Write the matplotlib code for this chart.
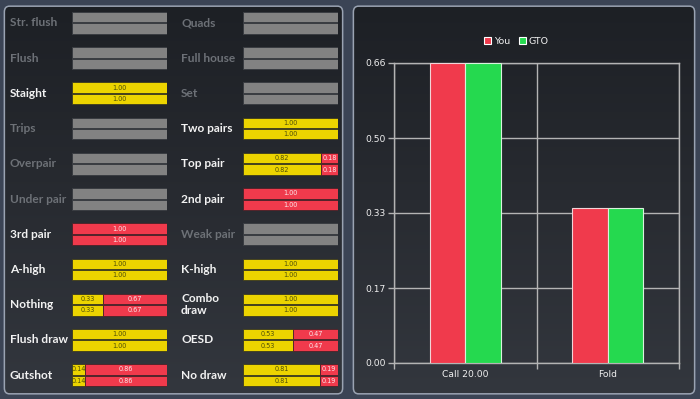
import numpy as np
import matplotlib
matplotlib.use("Agg")
import matplotlib.pyplot as plt
from matplotlib.patches import FancyBboxPatch
from matplotlib.transforms import blended_transform_factory
from matplotlib.colors import LinearSegmentedColormap

# ---------------- data ----------------
left_labels = ["Str. flush", "Flush", "Staight", "Trips", "Overpair", "Under pair",
               "3rd pair", "A-high", "Nothing", "Flush draw", "Gutshot"]
left_call = [np.nan, np.nan, 1.00, np.nan, np.nan, np.nan, 0.00, 1.00, 0.33, 1.00, 0.14]
left_fold = [np.nan, np.nan, 0.00, np.nan, np.nan, np.nan, 1.00, 0.00, 0.67, 0.00, 0.86]

right_labels = ["Quads", "Full house", "Set", "Two pairs", "Top pair", "2nd pair",
                "Weak pair", "K-high", "Combo\ndraw", "OESD", "No draw"]
right_call = [np.nan, np.nan, np.nan, 1.00, 0.82, 0.00, np.nan, 1.00, 1.00, 0.53, 0.81]
right_fold = [np.nan, np.nan, np.nan, 0.00, 0.18, 1.00, np.nan, 0.00, 0.00, 0.47, 0.19]

actions = ["Call 20.00", "Fold"]
you_freq = [0.66, 0.34]
gto_freq = [0.66, 0.34]
y_ticks = [0.0, 0.165, 0.33, 0.495, 0.66]
y_tick_labels = ["0.00", "0.17", "0.33", "0.50", "0.66"]

# ---------------- style ----------------
W, H = 700, 399
BG = "#3b4455"
YELLOW = "#ecd400"
RED = "#f03a4c"
GREEN = "#25d94f"
GRAY = "#828282"
LABEL_ON = "#f2f2f2"
LABEL_OFF = "#6d7177"

fig = plt.figure(figsize=(W / 100, H / 100), dpi=100)
fig.patch.set_facecolor(BG)


def fx(px):
    return px / W


def fy(py):
    return 1 - py / H


# panels with gradient
grad = np.linspace(0, 1, 256).reshape(-1, 1)
pcmap = LinearSegmentedColormap.from_list("p", ["#1d2025", "#282b31", "#33373e"])
for (x0, x1) in [(3, 344), (352, 696)]:
    y0, y1 = 5, 395
    bg_ax = fig.add_axes([fx(x0), fy(y1), fx(x1 - x0), (y1 - y0) / H], zorder=0)
    bg_ax.set_axis_off()
    im = bg_ax.imshow(grad, aspect="auto", cmap=pcmap, extent=[0, 1, 0, 1], origin="upper")
    patch = FancyBboxPatch((0.004, 0.003), 0.992, 0.994,
                           boxstyle="round,pad=0,rounding_size=0.015",
                           transform=bg_ax.transAxes, facecolor="none",
                           edgecolor="#9aa3b2", linewidth=1.1)
    bg_ax.add_patch(patch)
    im.set_clip_path(patch)
    bg_ax.set_xlim(0, 1)
    bg_ax.set_ylim(0, 1)

# ---------------- left panel: hand categories ----------------
pitch = 35.23
row0 = 22.9
top_px = row0 - 0.5 * pitch
bot_px = row0 + 10.5 * pitch
bar_h = 10.4 / pitch
offs = 5.7 / pitch


def draw_column(x0, x1, lab_x, labels, call, fold):
    ax = fig.add_axes([fx(x0), fy(bot_px), fx(x1 - x0), (bot_px - top_px) / H], zorder=2)
    ax.set_axis_off()
    ax.set_xlim(0, 1)
    ax.set_ylim(len(labels) - 0.5, -0.5)
    tr = blended_transform_factory(fig.transFigure, ax.transData)
    for i, lab in enumerate(labels):
        c, f = call[i], fold[i]
        active = not np.isnan(c)
        ax.text(fx(lab_x), i, lab, transform=tr, ha="left", va="center",
                fontsize=8.6, family="Lato", fontweight="bold",
                color=LABEL_ON if active else LABEL_OFF, linespacing=1.15)
        for dy in (-offs, offs):
            yy = i + dy
            if not active:
                ax.barh(yy, 1.0, height=bar_h, left=0, color=GRAY,
                        edgecolor="#3a3d42", linewidth=0.7)
                continue
            if c > 0:
                ax.barh(yy, c, height=bar_h, left=0, color=YELLOW,
                        edgecolor="#3b3a1e", linewidth=0.6)
                ax.text(c / 2, yy, f"{c:.2f}", ha="center", va="center",
                        fontsize=4.7, color="#4f4f08", family="DejaVu Sans")
            if f > 0:
                ax.barh(yy, f, height=bar_h, left=c, color=RED,
                        edgecolor="#4a2228", linewidth=0.6)
                ax.text(c + f / 2, yy, f"{f:.2f}", ha="center", va="center",
                        fontsize=4.7, color="#fbe6e8", family="DejaVu Sans")


draw_column(72, 167, 10, left_labels, left_call, left_fold)
draw_column(243, 338, 181, right_labels, right_call, right_fold)

# ---------------- right panel: bar chart ----------------
ax = fig.add_axes([fx(394), fy(363), fx(679 - 394), 300 / H], zorder=2)
ax.set_facecolor("none")
x = np.arange(len(actions))
w = 0.25
grid_c = "#b4b4b4"
ax.bar(x - w / 2, you_freq, width=w, color=RED, edgecolor="#f2d4d7", linewidth=0.8,
       label="You", zorder=3)
ax.bar(x + w / 2, gto_freq, width=w, color=GREEN, edgecolor="#d8f2dc", linewidth=0.8,
       label="GTO", zorder=3)
ax.set_xlim(-0.5, 1.5)
ax.set_ylim(0, 0.66)
ax.set_yticks(y_ticks)
ax.set_yticklabels(y_tick_labels)
ax.set_xticks(x)
ax.set_xticklabels(actions)
ax.set_xticks([-0.5, 0.5, 1.5], minor=True)
ax.tick_params(axis="x", which="major", length=0, pad=5, colors="#f0f0f0", labelsize=6.6)
ax.tick_params(axis="x", which="minor", length=4, color=grid_c, width=1)
ax.tick_params(axis="y", length=4, color=grid_c, width=1, colors="#f0f0f0",
               labelsize=6.6, pad=2)
for t in ax.get_yticklabels() + ax.get_xticklabels():
    t.set_color("#f0f0f0")
ax.yaxis.grid(True, color=grid_c, linewidth=1, zorder=1)
ax.xaxis.grid(True, which="minor", color=grid_c, linewidth=1, zorder=1)
for s in ax.spines.values():
    s.set_color(grid_c)
    s.set_linewidth(1)
leg = ax.legend(loc="center", bbox_to_anchor=(0.43, 1.073), ncol=2, frameon=False,
                fontsize=6.8, handlelength=0.7, handleheight=0.7, handletextpad=0.3,
                columnspacing=1.0, labelcolor="#f0f0f0")
for h in leg.legend_handles:
    h.set_edgecolor("#ffffff")
    h.set_linewidth(0.8)

fig.savefig("out.png", dpi=100, facecolor=fig.get_facecolor())
